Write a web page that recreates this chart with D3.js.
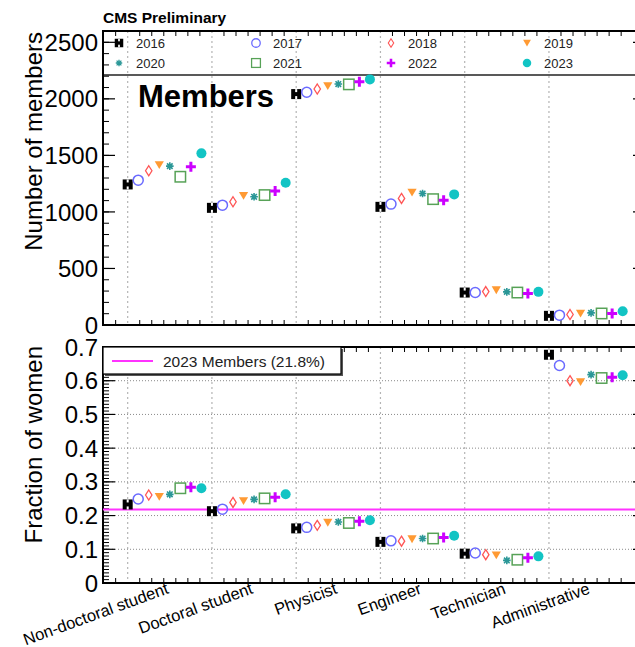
<!DOCTYPE html>
<html>
<head>
<meta charset="utf-8">
<script src="https://cdn.jsdelivr.net/npm/d3@7"></script>
<style>
  html, body { margin: 0; padding: 0; background: #fff; }
  svg { display: block; font-family: "Liberation Sans", Arial, Helvetica, sans-serif; }
</style>
</head>
<body>
<svg id="chart" width="635" height="647"></svg>
<script>
// Occupational categories along the x axis
const categories = ["Non-doctoral student", "Doctoral student", "Physicist", "Engineer", "Technician", "Administrative"];
const years = [2016, 2017, 2018, 2019, 2020, 2021, 2022, 2023];

// Number of members per category, one array per year
const members2016 = [1243, 1036, 2042, 1045, 287, 81];
const members2017 = [1281, 1060, 2058, 1069, 287, 87];
const members2018 = [1364, 1090, 2087, 1119, 296, 93];
const members2019 = [1414, 1143, 2113, 1172, 308, 102];
const members2020 = [1405, 1134, 2131, 1163, 293, 107];
const members2021 = [1311, 1149, 2128, 1113, 287, 102];
const members2022 = [1399, 1184, 2151, 1104, 279, 102];
const members2023 = [1518, 1258, 2172, 1155, 293, 122];

// Fraction of women per category, one array per year
const women2016 = [0.233, 0.213, 0.162, 0.122, 0.087, 0.677];
const women2017 = [0.249, 0.219, 0.165, 0.125, 0.089, 0.645];
const women2018 = [0.261, 0.239, 0.171, 0.124, 0.084, 0.600];
const women2019 = [0.256, 0.243, 0.179, 0.130, 0.082, 0.596];
const women2020 = [0.263, 0.248, 0.181, 0.132, 0.067, 0.618];
const women2021 = [0.281, 0.251, 0.178, 0.132, 0.069, 0.608];
const women2022 = [0.284, 0.254, 0.183, 0.135, 0.075, 0.610];
const women2023 = [0.281, 0.263, 0.186, 0.140, 0.079, 0.616];

// Overall fraction of women among 2023 members
const overallWomen2023 = 0.218;

// Axis tick values
const memberTicks = [0, 500, 1000, 1500, 2000, 2500];
const fractionTicks = [0, 0.1, 0.2, 0.3, 0.4, 0.5, 0.6, 0.7];

const membersByYear = [members2016, members2017, members2018, members2019, members2020, members2021, members2022, members2023];
const womenByYear = [women2016, women2017, women2018, women2019, women2020, women2021, women2022, women2023];

// Marker style per year
const markerStyle = {
  2016: { shape: "fullSquare", color: "#000000" },
  2017: { shape: "openCircle", color: "#6a6aff" },
  2018: { shape: "openDiamond", color: "#ff5555" },
  2019: { shape: "downTriangle", color: "#ff9a33" },
  2020: { shape: "asterisk", color: "#2a9797" },
  2021: { shape: "openSquare", color: "#57a257" },
  2022: { shape: "plus", color: "#cc00ff" },
  2023: { shape: "fullCircle", color: "#12c4c4" }
};

const svg = d3.select("#chart");
svg.append("rect").attr("width", 635).attr("height", 647).attr("fill", "#fff");

const frameLeft = 103, frameRight = 645;
const topPanel = { top: 31, bottom: 325 };
const botPanel = { top: 347, bottom: 583 };

const x = d3.scaleLinear().domain([-0.293, 6.14]).range([frameLeft, frameRight]);
const yearOffset = 0.125; // spacing between years inside a category
const yTop = d3.scaleLinear().domain([0, 2600]).range([topPanel.bottom, topPanel.top]);
const yBot = d3.scaleLinear().domain([0, 0.7]).range([botPanel.bottom, botPanel.top]);

function drawMarker(g, year, cx, cy, s) {
  const st = markerStyle[year];
  const c = st.color;
  s = s || 1;
  const m = g.append("g").attr("transform", `translate(${cx},${cy}) scale(${s})`);
  switch (st.shape) {
    case "fullSquare":
      m.append("rect").attr("x", -5).attr("y", -5).attr("width", 10).attr("height", 10).attr("fill", c);
      m.append("rect").attr("x", -1).attr("y", -5).attr("width", 2).attr("height", 3).attr("fill", "#fff");
      m.append("rect").attr("x", -1).attr("y", 2).attr("width", 2).attr("height", 3).attr("fill", "#fff");
      break;
    case "openCircle":
      m.append("circle").attr("r", 5).attr("fill", "none").attr("stroke", c).attr("stroke-width", 1.5);
      break;
    case "openDiamond":
      m.append("path").attr("d", "M0,-5 L3.2,0 L0,5 L-3.2,0 Z").attr("fill", "none").attr("stroke", c).attr("stroke-width", 1.3);
      break;
    case "downTriangle":
      m.append("path").attr("d", "M-4.6,-3.8 L4.6,-3.8 L0,4 Z").attr("fill", c);
      break;
    case "asterisk":
      m.append("path").attr("d", "M-3.8,0 L3.8,0 M0,-3.8 L0,3.8 M-2.8,-2.8 L2.8,2.8 M-2.8,2.8 L2.8,-2.8")
        .attr("stroke", c).attr("stroke-width", 1.6).attr("fill", "none");
      break;
    case "openSquare":
      m.append("rect").attr("x", -5.2).attr("y", -5.2).attr("width", 10.4).attr("height", 10.4)
        .attr("fill", "none").attr("stroke", c).attr("stroke-width", 1.5);
      break;
    case "plus":
      m.append("path").attr("d", "M-5,0 L5,0 M0,-5 L0,5").attr("stroke", c).attr("stroke-width", 3).attr("fill", "none");
      break;
    case "fullCircle":
      m.append("circle").attr("r", 5).attr("fill", c);
      break;
  }
}

// Grid lines ---------------------------------------------------------
function verticalGrid(panel) {
  svg.append("g").selectAll("line").data(categories).join("line")
    .attr("x1", (d, i) => x(i)).attr("x2", (d, i) => x(i))
    .attr("y1", panel.top).attr("y2", panel.bottom)
    .attr("stroke", "#b4b4b4").attr("stroke-width", 1.2).attr("stroke-dasharray", "2,3");
}
verticalGrid(topPanel);
verticalGrid(botPanel);

svg.append("g").selectAll("line").data(fractionTicks.filter(v => v > 0 && v < 0.7)).join("line")
  .attr("x1", frameLeft).attr("x2", frameRight)
  .attr("y1", d => yBot(d)).attr("y2", d => yBot(d))
  .attr("stroke", "#8a8a8a").attr("stroke-width", 1).attr("stroke-dasharray", "1,2");

// Axes ---------------------------------------------------------------
function leftAxis(scale, panel, majors, minorStep, fmt) {
  const g = svg.append("g");
  const [d0, d1] = scale.domain();
  const minors = d3.range(d0, d1 + minorStep / 2, minorStep);
  g.selectAll(".mn").data(minors).join("line")
    .attr("x1", frameLeft).attr("x2", frameLeft + 6)
    .attr("y1", d => scale(d)).attr("y2", d => scale(d)).attr("stroke", "#000").attr("stroke-width", 1);
  g.selectAll(".mnr").data(minors).join("line")
    .attr("x1", frameRight).attr("x2", frameRight - 6)
    .attr("y1", d => scale(d)).attr("y2", d => scale(d)).attr("stroke", "#000").attr("stroke-width", 1);
  g.selectAll(".mj").data(majors).join("line")
    .attr("x1", frameLeft).attr("x2", frameLeft + 12)
    .attr("y1", d => scale(d)).attr("y2", d => scale(d)).attr("stroke", "#000").attr("stroke-width", 1.2);
  g.selectAll(".mjr").data(majors).join("line")
    .attr("x1", frameRight).attr("x2", frameRight - 12)
    .attr("y1", d => scale(d)).attr("y2", d => scale(d)).attr("stroke", "#000").attr("stroke-width", 1.2);
  g.selectAll("text").data(majors).join("text")
    .attr("x", 98).attr("y", d => scale(d)).attr("dy", "0.36em")
    .attr("text-anchor", "end").attr("font-size", 24).attr("fill", "#000")
    .text(fmt);
}
leftAxis(yTop, topPanel, memberTicks, 100, d => d3.format("d")(d));
leftAxis(yBot, botPanel, fractionTicks, 0.01, d => d === 0 ? "0" : d3.format(".1f")(d));

// x minor ticks between category positions
function xTicks(panel) {
  const ticks = [];
  categories.forEach((c, i) => { for (let k = 1; k < 7; k++) ticks.push(i + k / 7); });
  for (let k = 1; k < 3; k++) ticks.push(-k / 7);
  svg.append("g").selectAll("line").data(ticks.filter(t => x(t) > frameLeft + 2)).join("line")
    .attr("x1", d => x(d)).attr("x2", d => x(d))
    .attr("y1", panel.bottom).attr("y2", panel.bottom - 5)
    .attr("stroke", "#000").attr("stroke-width", 1);
  svg.append("g").selectAll("line").data(ticks.filter(t => x(t) > frameLeft + 2)).join("line")
    .attr("x1", d => x(d)).attr("x2", d => x(d))
    .attr("y1", panel.top).attr("y2", panel.top + 5)
    .attr("stroke", "#000").attr("stroke-width", 1);
}
xTicks(topPanel);
xTicks(botPanel);

// Frames
[topPanel, botPanel].forEach(p => {
  svg.append("rect").attr("x", frameLeft).attr("y", p.top)
    .attr("width", frameRight - frameLeft).attr("height", p.bottom - p.top)
    .attr("fill", "none").attr("stroke", "#000").attr("stroke-width", 2);
});

// Axis titles
svg.append("text").attr("transform", `translate(42,${topPanel.top + 1}) rotate(-90)`)
  .attr("text-anchor", "end").attr("font-size", 24).text("Number of members");
svg.append("text").attr("transform", `translate(42,${botPanel.top - 1}) rotate(-90)`)
  .attr("text-anchor", "end").attr("font-size", 24).text("Fraction of women");

// Category labels
svg.append("g").selectAll("text").data(categories).join("text")
  .attr("transform", (d, i) => `translate(${x(i) + 42},593) rotate(-20)`)
  .attr("text-anchor", "end").attr("font-size", 16.5).text(d => d);

// Header
svg.append("text").attr("x", 103).attr("y", 23).attr("font-size", 15.5).attr("font-weight", "bold").text("CMS Preliminary");
svg.append("text").attr("x", 138).attr("y", 107).attr("font-size", 31).attr("font-weight", "bold").text("Members");

// Top legend
svg.append("rect").attr("x", frameLeft).attr("y", topPanel.top).attr("width", frameRight - frameLeft).attr("height", 44)
  .attr("fill", "none").attr("stroke", "#000").attr("stroke-width", 1.3);
const legCols = [119, 256, 391, 527];
years.forEach((yr, j) => {
  const col = j % 4, row = Math.floor(j / 4);
  const cy = 43 + row * 20;
  drawMarker(svg, yr, legCols[col], cy, 0.85);
  svg.append("text").attr("x", legCols[col] + 17).attr("y", cy).attr("dy", "0.36em")
    .attr("font-size", 13).attr("fill", "#222").text(yr);
});

// Reference line for overall 2023 fraction
svg.append("line").attr("x1", frameLeft).attr("x2", frameRight)
  .attr("y1", yBot(overallWomen2023)).attr("y2", yBot(overallWomen2023))
  .attr("stroke", "#ff33ff").attr("stroke-width", 2.2);

// Data markers
const gTop = svg.append("g");
const gBot = svg.append("g");
years.forEach((yr, j) => {
  categories.forEach((c, i) => {
    drawMarker(gTop, yr, x(i + j * yearOffset), yTop(membersByYear[j][i]));
    drawMarker(gBot, yr, x(i + j * yearOffset), yBot(womenByYear[j][i]));
  });
});

// Bottom legend
svg.append("rect").attr("x", 105).attr("y", 349).attr("width", 238).attr("height", 27).attr("fill", "#555");
svg.append("rect").attr("x", frameLeft).attr("y", botPanel.top).attr("width", 238).attr("height", 27)
  .attr("fill", "#fff").attr("stroke", "#000").attr("stroke-width", 1.2);
svg.append("line").attr("x1", 112).attr("x2", 153).attr("y1", 361).attr("y2", 361)
  .attr("stroke", "#ff33ff").attr("stroke-width", 2.2);
svg.append("text").attr("x", 163).attr("y", 361).attr("dy", "0.36em").attr("font-size", 15.5).attr("fill", "#222")
  .text(`2023 Members (${(overallWomen2023 * 100).toFixed(1)}%)`);
</script>
</body>
</html>
